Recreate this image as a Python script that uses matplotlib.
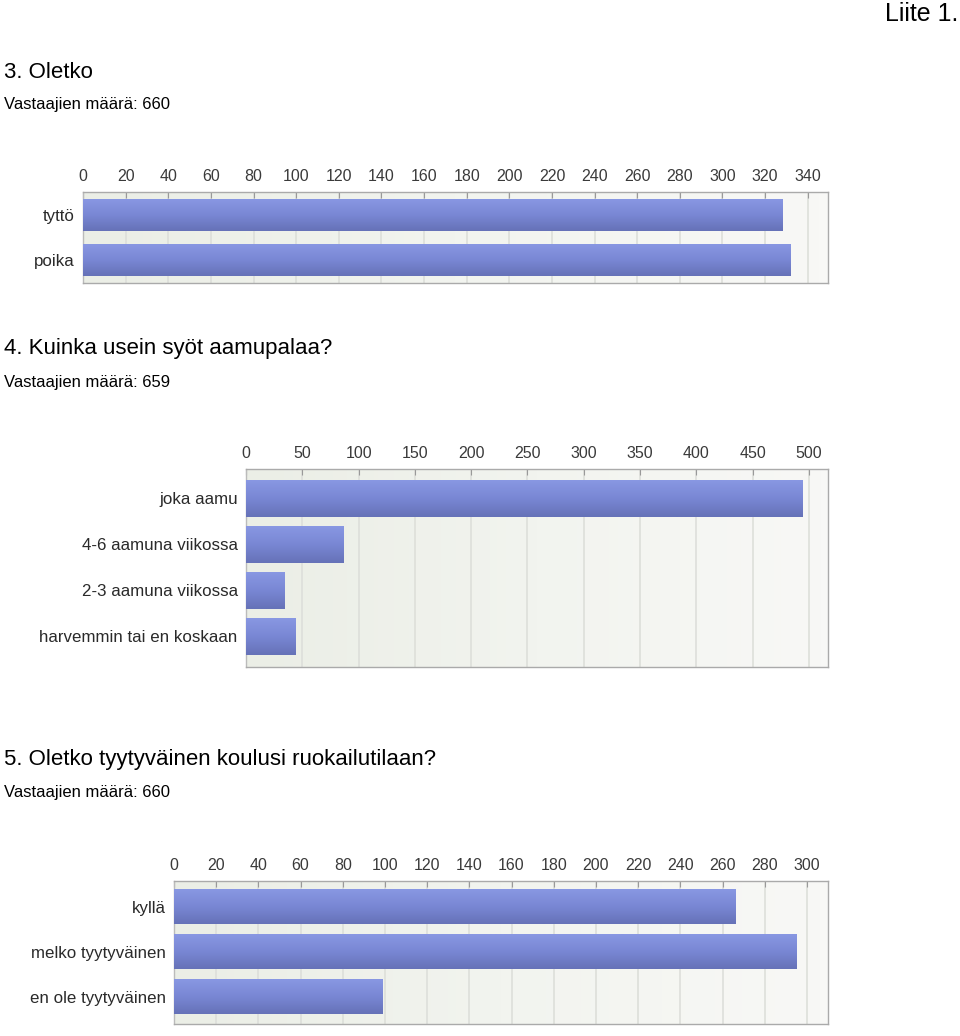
import numpy as np
from matplotlib import pyplot as plt
from matplotlib.colors import LinearSegmentedColormap

# data
gender_labels = ['tyttö', 'poika']
gender_counts = [328, 332]
gender_ticks = list(range(0, 341, 20))

breakfast_labels = ['joka aamu', '4-6 aamuna viikossa', '2-3 aamuna viikossa', 'harvemmin tai en koskaan']
breakfast_counts = [494, 87, 34, 44]
breakfast_ticks = list(range(0, 501, 50))

canteen_labels = ['kyllä', 'melko tyytyväinen', 'en ole tyytyväinen']
canteen_counts = [266, 295, 99]
canteen_ticks = list(range(0, 301, 20))

W, H = 960, 1036
fig = plt.figure(figsize=(9.6, 10.36), dpi=100)
fig.patch.set_facecolor('white')

TXT = 'Liberation Sans'
bg_cmap = LinearSegmentedColormap.from_list('bg', ['#ebeee6', '#f2f4ef', '#f8f8f6'])
bar_cmap = LinearSegmentedColormap.from_list('bar', ['#8897e2', '#7987d4', '#6672b8'])


def px_axes(left, right, top, bottom):
	return fig.add_axes([left / W, 1 - bottom / H, (right - left) / W, (bottom - top) / H])


def bar_chart(ax, labels, counts, ticks, xmax, bar_h, pad_top, pad_bot):
	n = len(labels)
	ypos = np.arange(n)
	y_top, y_bot = -pad_top, n - 1 + pad_bot
	# background, slightly darker / greener at the left
	bg = np.linspace(0, 1, 64).reshape(1, -1)
	ax.imshow(bg, extent=[0, xmax, y_bot, y_top], aspect='auto', cmap=bg_cmap,
			  zorder=0, interpolation='bilinear')
	for t in ticks[1:]:
		ax.axvline(t, color='#dddfda', lw=1.2, zorder=1)
	bars = ax.barh(ypos, counts, height=bar_h, color='none', edgecolor='none', zorder=2)
	grad = np.linspace(0, 1, 32).reshape(-1, 1)
	for b in bars:
		x0, y0 = b.get_xy()
		w, h = b.get_width(), b.get_height()
		ax.imshow(grad, extent=[x0, x0 + w, y0 + h, y0], aspect='auto', cmap=bar_cmap,
				  zorder=3, interpolation='bilinear')
	ax.set_xlim(0, xmax)
	ax.set_ylim(y_bot, y_top)
	ax.set_xticks(ticks)
	ax.xaxis.tick_top()
	ax.tick_params(axis='x', direction='in', length=4, color='#999999', labelsize=11.5,
				   labelcolor='#3a3a3a', pad=6)
	ax.set_yticks(ypos)
	ax.set_yticklabels(labels)
	ax.tick_params(axis='y', length=0, labelsize=12.2, labelcolor='#2a2a2a', pad=6)
	for lab in ax.get_xticklabels() + ax.get_yticklabels():
		lab.set_family(TXT)
	for s in ax.spines.values():
		s.set_color('#aaaaaa')
		s.set_linewidth(1)
	ax.spines['left'].set_color('#bbbbbb')


ax1 = px_axes(83, 828, 192, 283)
bar_chart(ax1, gender_labels, gender_counts, gender_ticks, 349.5, 0.69, 0.52, 0.5)

ax2 = px_axes(246, 828, 469, 667)
bar_chart(ax2, breakfast_labels, breakfast_counts, breakfast_ticks, 517, 0.8, 0.64, 0.67)

ax3 = px_axes(174, 828, 881, 1024)
bar_chart(ax3, canteen_labels, canteen_counts, canteen_ticks, 310, 0.76, 0.58, 0.6)


def ftext(x, y, s, size, ha='left'):
	fig.text(x / W, 1 - y / H, s, fontsize=size, family=TXT, ha=ha, va='center', color='black')


ftext(958, 14, 'Liite 1.', 18, ha='right')
ftext(4, 72, '3. Oletko', 16)
ftext(4, 104, 'Vastaajien määrä: 660', 12)
ftext(4, 349, '4. Kuinka usein syöt aamupalaa?', 16)
ftext(4, 382, 'Vastaajien määrä: 659', 12)
ftext(4, 760, '5. Oletko tyytyväinen koulusi ruokailutilaan?', 16)
ftext(4, 792, 'Vastaajien määrä: 660', 12)

fig.savefig('out.png', dpi=100, facecolor='white')
